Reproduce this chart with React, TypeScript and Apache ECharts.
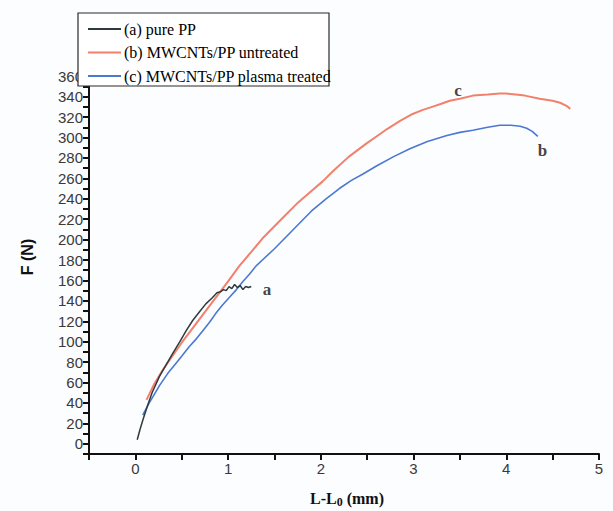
import React, { useEffect, useRef } from "react";
import * as echarts from "echarts";

const seriesNames = ["(a) pure PP", "(b) MWCNTs/PP untreated", "(c) MWCNTs/PP plasma treated"];
const seriesColors = ["#2e3b3d", "#f2806c", "#4b78d2"];

const purePP: [number, number][] = [
  [0.02, 4], [0.05, 14], [0.08, 23], [0.13, 37], [0.18, 50], [0.26, 66], [0.33, 77], [0.4, 88],
  [0.48, 100], [0.55, 111], [0.62, 121], [0.69, 129], [0.76, 137], [0.83, 143], [0.88, 148],
  [0.92, 149], [0.95, 151], [0.98, 150], [1.01, 154], [1.04, 152], [1.07, 156], [1.1, 153],
  [1.13, 155], [1.16, 151], [1.19, 154], [1.22, 153], [1.25, 154],
];

const untreated: [number, number][] = [
  [0.12, 43], [0.2, 58], [0.3, 73], [0.4, 86], [0.5, 99], [0.6, 111], [0.7, 123], [0.8, 135],
  [0.9, 147], [1.0, 159], [1.12, 174], [1.25, 188], [1.37, 201], [1.5, 213], [1.62, 224],
  [1.74, 235], [1.88, 246], [2.02, 257], [2.13, 267], [2.3, 281], [2.49, 294], [2.6, 301],
  [2.71, 308], [2.85, 316], [2.99, 323], [3.1, 327], [3.2, 330], [3.3, 333], [3.39, 336],
  [3.5, 338], [3.64, 341], [3.8, 342], [3.93, 343], [4.0, 343], [4.1, 342], [4.2, 341],
  [4.36, 338], [4.5, 336], [4.58, 334], [4.65, 331], [4.69, 328],
];

const plasma: [number, number][] = [
  [0.08, 28], [0.15, 40], [0.26, 57], [0.35, 69], [0.43, 78], [0.51, 87], [0.58, 95],
  [0.66, 103], [0.73, 111], [0.8, 119], [0.87, 128], [0.94, 136], [1.02, 144], [1.09, 151],
  [1.16, 159], [1.23, 166], [1.3, 174], [1.37, 180], [1.5, 191], [1.63, 203], [1.77, 216],
  [1.9, 228], [2.06, 240], [2.2, 250], [2.33, 258], [2.45, 264], [2.6, 272], [2.78, 281],
  [2.96, 289], [3.15, 296], [3.36, 302], [3.5, 305], [3.64, 307], [3.8, 310], [3.93, 312],
  [4.05, 312], [4.15, 311], [4.22, 309], [4.28, 306], [4.34, 301],
];

const curveLabels: [number, number, string][] = [
  [1.42, 151, "a"],
  [4.39, 287, "b"],
  [3.48, 346, "c"],
];

const X_MIN = -0.5, X_MAX = 5, X_STEP = 0.5;
const Y_MIN = -10, Y_MAX = 370, Y_STEP = 10;

export default function App() {
  const ref = useRef<HTMLDivElement>(null);
  useEffect(() => {
    if (!ref.current) return;
    const chart = echarts.init(ref.current, undefined, { renderer: "svg" });
    const axisCommon = {
      axisLine: { show: true, onZero: false, lineStyle: { color: "#111", width: 2 } },
      axisTick: { show: true, inside: false, length: 6, lineStyle: { color: "#111", width: 2 } },
      splitLine: { show: false },
    };
    const legendEls: any[] = [];
    seriesNames.forEach((n, i) => {
      const y = 29 + i * 23.5;
      legendEls.push({ type: "line", z: 21, shape: { x1: 88, y1: y, x2: 121, y2: y }, style: { stroke: seriesColors[i], lineWidth: 2 } });
      legendEls.push({ type: "text", z: 21, x: 124, y, style: { text: n, fill: "#000", font: "16px 'Liberation Serif'", verticalAlign: "middle" } });
    });
    chart.setOption({
      animation: false,
      backgroundColor: "#fcfdff",
      grid: { left: 89, right: 14, top: 66, bottom: 57, containLabel: false },
      xAxis: {
        type: "value", min: X_MIN, max: X_MAX, interval: X_STEP,
        ...axisCommon,
        axisLabel: {
          color: "#3a3a3a", fontFamily: "Liberation Sans", fontSize: 15, margin: 7,
          formatter: (v: number) => (Number.isInteger(v) && v >= 0 ? String(v) : ""),
        },
      },
      yAxis: {
        type: "value", min: Y_MIN, max: Y_MAX, interval: Y_STEP,
        ...axisCommon,
        axisLabel: {
          color: "#3a3a3a", fontFamily: "Liberation Sans", fontSize: 15, margin: 6,
          formatter: (v: number) => (v >= 0 && v % 20 === 0 && v <= 360 ? String(v) : ""),
        },
      },
      series: [
        { name: seriesNames[0], type: "line", data: purePP, showSymbol: false, symbol: "none", lineStyle: { color: seriesColors[0], width: 1.5 }, z: 4 },
        { name: seriesNames[1], type: "line", data: untreated, showSymbol: false, symbol: "none", lineStyle: { color: seriesColors[1], width: 2 }, z: 2 },
        { name: seriesNames[2], type: "line", data: plasma, showSymbol: false, symbol: "none", lineStyle: { color: seriesColors[2], width: 1.6 }, z: 3 },
        {
          name: "labels", type: "scatter", data: curveLabels, symbolSize: 0, silent: true,
          label: {
            show: true, position: "inside", formatter: (p: any) => p.data[2],
            color: "#111", fontFamily: "Liberation Serif", fontWeight: "bold", fontSize: 17,
          },
        },
      ],
      graphic: [
        { type: "rect", z: 20, shape: { x: 78, y: 13, width: 251, height: 73 }, style: { fill: "#ffffff", stroke: "#2a2a2a", lineWidth: 1.2 } },
        ...legendEls,
        { type: "text", z: 20, x: 27, y: 257, rotation: Math.PI / 2, style: { text: "F (N)", fill: "#111", font: "bold 16px 'Liberation Sans'", align: "center", verticalAlign: "middle" } },
        {
          type: "text", z: 20, x: 347, y: 498,
          style: {
            text: "{a|L-L}{s|0}{a| (mm)}", align: "center", verticalAlign: "middle",
            rich: {
              a: { font: "bold 16px 'Liberation Serif'", fill: "#111" },
              s: { font: "bold 12px 'Liberation Serif'", fill: "#111", padding: [8, 0, 0, 0] },
            },
          },
        },
      ],
    });
    return () => chart.dispose();
  }, []);
  return <div ref={ref} style={{ width: 613, height: 511, position: "absolute", left: 0, top: 0 }} />;
}
